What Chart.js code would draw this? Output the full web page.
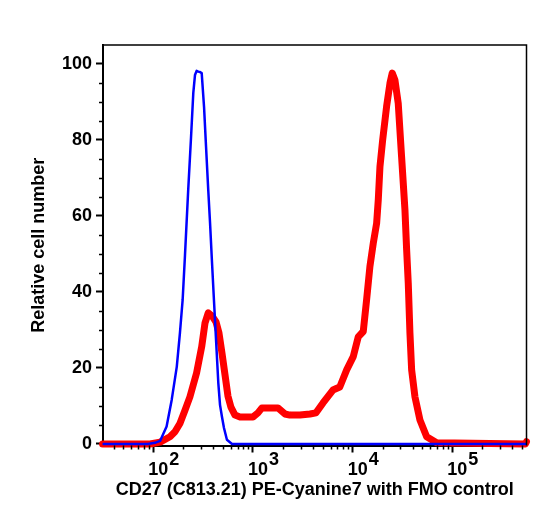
<!DOCTYPE html>
<html>
<head>
<meta charset="UTF-8">
<title>CD27 PE-Cyanine7 histogram</title>
<script src="https://cdn.jsdelivr.net/npm/chart.js"></script>
<style>
  body { margin: 0; background: #fff; }
</style>
</head>
<body>
<canvas id="histChart" width="547" height="517"></canvas>
<script>
// FMO control (blue)
var fmoX = [31, 88, 104, 117, 136, 153, 172, 185, 197, 208, 224, 239, 252, 262, 272, 283, 294, 306, 323, 338,
            356, 371, 388, 406, 416, 449, 467, 489, 512, 548, 616, 554000];
var fmoY = [0, 0, 0.3, 0.8, 4.6, 11.6, 20.3, 29.2, 37.9, 49.7, 66.8, 80.6, 92.4, 97.1, 98.2, 98, 97.9, 97.6, 88.7, 78.4,
            66.8, 58.2, 47.9, 37.9, 32.6, 16.1, 10.3, 7.1, 4.2, 1.1, 0, 0];

// CD27 stained sample (red)
var cd27X = [31, 93, 117, 147, 165, 185, 208, 233, 272, 306, 330, 356, 388, 426, 456, 489, 524, 561, 601, 660,
             741, 1000, 1122, 1230, 1780, 2090, 2350, 2960, 3730, 4290, 5040, 6340, 7430, 8710, 10140, 11380, 12770, 13800, 14900, 16100,
             17400, 18070, 18790, 20000, 21900, 23660, 24960, 26550, 28650, 30970, 33470, 34800, 36130, 37560, 39060, 42170, 47320, 55250, 69600, 540000,
             554000];
var cd27Y = [0, 0, 0.5, 1.9, 3.2, 5.4, 8.9, 12.4, 18.7, 25.6, 31.8, 34.5, 33.7, 32.1, 29.2, 23.9, 18.2, 12.6, 9.7, 7.6,
             7.1, 7.1, 8.2, 9.5, 9.5, 7.9, 7.6, 7.6, 7.9, 8.2, 10.8, 14.2, 15, 19.5, 23, 28.2, 29.6, 37.9, 46.7, 52.8,
             58.1, 64.2, 73, 80, 88.8, 94.9, 97.6, 95.8, 89.7, 75.6, 61.6, 51.1, 42.3, 29.2, 19.5, 12.4, 6.3, 1.9, 0.3, 0,
             0.6];

var yTicks = [0, 20, 40, 60, 80, 100];
var xDecades = [100, 1000, 10000, 100000];
var xExponents = ['2', '3', '4', '5'];

var fontFamily = "'Liberation Sans', Arial, Helvetica, sans-serif";
Chart.defaults.font.family = fontFamily;
Chart.defaults.color = '#000';

function toPoints(xs, ys) {
    return xs.map(function (x, i) { return { x: x, y: ys[i] }; });
}

// frame, minor ticks and the 10^n labels
var axisExtras = {
    id: 'axisExtras',
    afterDraw: function (chart) {
        var ctx = chart.ctx, area = chart.chartArea;
        var xs = chart.scales.x, ys = chart.scales.y;
        ctx.save();
        ctx.strokeStyle = '#000';
        ctx.lineWidth = 1.5;
        ctx.beginPath();
        ctx.moveTo(area.left, area.top);
        ctx.lineTo(area.right, area.top);
        ctx.lineTo(area.right, area.bottom);
        ctx.stroke();

        ctx.beginPath();
        for (var v = 5; v < 105; v += 5) {
            if (v % 20 === 0) continue;
            var py = Math.round(ys.getPixelForValue(v)) + 0.5;
            ctx.moveTo(area.left - 4, py);
            ctx.lineTo(area.left, py);
        }
        for (var d = 10; d <= 100000; d *= 10) {
            for (var m = 2; m <= 9; m++) {
                var val = d * m;
                if (val < xs.min || val > xs.max) continue;
                var px = Math.round(xs.getPixelForValue(val)) + 0.5;
                ctx.moveTo(px, area.bottom);
                ctx.lineTo(px, area.bottom + 4);
            }
        }
        ctx.stroke();

        ctx.fillStyle = '#000';
        ctx.textAlign = 'left';
        ctx.textBaseline = 'alphabetic';
        xDecades.forEach(function (dv, i) {
            var tx = xs.getPixelForValue(dv) - 5;
            ctx.font = 'bold 18px ' + fontFamily;
            ctx.fillText('10', tx, 475);
            var w = ctx.measureText('10').width;
            ctx.fillText(xExponents[i], tx + w + 1, 465);
        });
        ctx.restore();
    }
};

var ctx = document.getElementById('histChart').getContext('2d');
var histChart = new Chart(ctx, {
    type: 'line',
    data: {
        datasets: [{
            label: 'FMO control',
            data: toPoints(fmoX, fmoY),
            borderColor: '#0000ff',
            borderWidth: 2.5,
            pointRadius: 0,
            tension: 0,
            borderJoinStyle: 'round',
            clip: 4
        }, {
            label: 'CD27 (C813.21) PE-Cyanine7',
            data: toPoints(cd27X, cd27Y),
            borderColor: '#ff0000',
            borderWidth: 7,
            pointRadius: 0,
            tension: 0,
            borderJoinStyle: 'round',
            borderCapStyle: 'round',
            clip: 4
        }]
    },
    options: {
        responsive: false,
        animation: false,
        layout: { padding: { left: 0, top: 45, right: 20.5, bottom: 0 } },
        plugins: { legend: { display: false }, tooltip: { enabled: false } },
        scales: {
            x: {
                type: 'logarithmic',
                min: 31.3,
                max: 554600,
                afterBuildTicks: function (scale) {
                    scale.ticks = xDecades.map(function (v) { return { value: v, major: true }; });
                },
                afterFit: function (scale) { scale.height = 71.5; },
                ticks: { display: false },
                grid: { drawOnChartArea: false, drawTicks: true, tickLength: 7, tickWidth: 2, tickColor: '#000' },
                border: { display: true, color: '#000', width: 2 },
                title: {
                    display: true,
                    text: 'CD27 (C813.21) PE-Cyanine7 with FMO control',
                    font: { size: 18, weight: 'bold' },
                    padding: { top: 0, bottom: 16 }
                }
            },
            y: {
                type: 'linear',
                min: -0.4,
                max: 105,
                afterBuildTicks: function (scale) {
                    scale.ticks = yTicks.map(function (v) { return { value: v }; });
                },
                afterFit: function (scale) { scale.width = 103; },
                ticks: { font: { size: 18, weight: 'bold' }, padding: 4 },
                grid: { drawOnChartArea: false, drawTicks: true, tickLength: 7, tickWidth: 2, tickColor: '#000' },
                border: { display: true, color: '#000', width: 2 },
                title: {
                    display: true,
                    text: 'Relative cell number',
                    font: { size: 18, weight: 'bold' },
                    padding: { top: 28, bottom: 0 }
                }
            }
        }
    },
    plugins: [axisExtras]
});
</script>
</body>
</html>
